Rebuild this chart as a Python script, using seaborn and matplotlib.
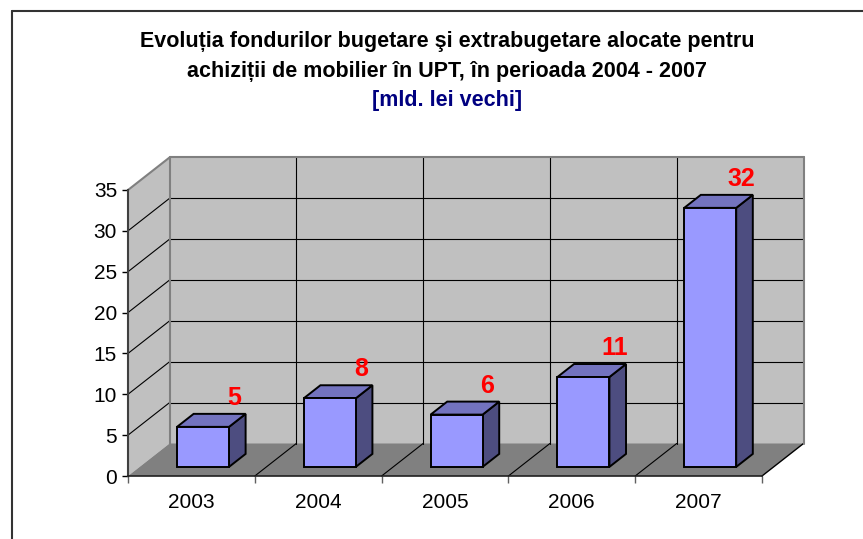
import numpy as np
import pandas as pd
import matplotlib
matplotlib.use("Agg")
import matplotlib.pyplot as plt
import seaborn as sns
from matplotlib.patches import Polygon
from matplotlib.transforms import Affine2D, IdentityTransform
from matplotlib.lines import Line2D

# ---- data ----
years = ["2003", "2004", "2005", "2006", "2007"]
values = [4.9, 8.4, 6.4, 11.0, 31.7]
y_ticks = [0, 5, 10, 15, 20, 25, 30, 35]
title_line1 = "Evoluția fondurilor bugetare şi extrabugetare alocate pentru"
title_line2 = "achiziții de mobilier în UPT, în perioada 2004 - 2007"
subtitle = "[mld. lei vechi]"

sns.set_theme(style="white")
plt.rcParams['font.family'] = ['Liberation Sans', 'DejaVu Sans']

W, H = 863, 539
fig = plt.figure(figsize=(W / 100, H / 100), dpi=100)
fig.patch.set_facecolor("white")
ax = fig.add_axes([128 / W, 63 / H, 634 / W, 286 / H])
ax.set_facecolor("none")

df = pd.DataFrame({"year": years, "value": values})
sns.barplot(data=df, x="year", y="value", color="#9999FF", saturation=1,
            width=0.41, edgecolor="black", linewidth=1.4, ax=ax, zorder=5)
bars = list(ax.patches)
ax.set_xlim(-0.5, len(years) - 0.5)
ax.set_ylim(y_ticks[0], y_ticks[-1])
ax.set_xlabel("")
ax.set_ylabel("")

D = np.array([41.5, 32.5])   # depth vector in pixels
f0, f1 = 0.28, 0.68          # bar depth span
x_lo, x_hi = -0.5, len(years) - 0.5
y_lo, y_hi = y_ticks[0], y_ticks[-1]


def P(x, y, f):
    return ax.transData.transform((x, y)) + f * D


def poly(pts, fc, ec="none", lw=0, z=0.5):
    p = Polygon(np.array(pts), closed=True, facecolor=fc, edgecolor=ec,
                linewidth=lw, transform=IdentityTransform(), clip_on=False,
                zorder=z, joinstyle="miter")
    ax.add_patch(p)


def line(a, b, color="black", lw=0.8, z=1):
    ax.add_line(Line2D([a[0], b[0]], [a[1], b[1]], color=color, lw=lw,
                       transform=IdentityTransform(), clip_on=False, zorder=z))


# back wall
poly([P(x_lo, y_lo, 1), P(x_hi, y_lo, 1), P(x_hi, y_hi, 1), P(x_lo, y_hi, 1)],
     "#C0C0C0", z=0.4)
# side wall
poly([P(x_lo, y_lo, 0), P(x_lo, y_lo, 1), P(x_lo, y_hi, 1), P(x_lo, y_hi, 0)],
     "#C0C0C0", z=0.4)
# floor
poly([P(x_lo, y_lo, 0), P(x_hi, y_lo, 0), P(x_hi, y_lo, 1), P(x_lo, y_lo, 1)],
     "#808080", z=0.45)

# gridlines
for yv in y_ticks[1:-1]:
    line(P(x_lo, yv, 0), P(x_lo, yv, 1))
    line(P(x_lo, yv, 1), P(x_hi, yv, 1))
for k in range(1, len(years)):
    xb = k - 0.5
    line(P(xb, y_lo, 1), P(xb, y_hi, 1))
    line(P(xb, y_lo, 0), P(xb, y_lo, 1))
line(P(x_hi, y_lo, 0), P(x_hi, y_lo, 1), color="black", lw=1.0)

# wall borders (gray)
gray = "#808080"
line(P(x_lo, y_hi, 0), P(x_lo, y_hi, 1), color=gray, lw=1.5, z=1.2)
line(P(x_lo, y_hi, 1), P(x_hi, y_hi, 1), color=gray, lw=1.5, z=1.2)
line(P(x_hi, y_hi, 1), P(x_hi, y_lo, 1), color=gray, lw=1.5, z=1.2)
line(P(x_lo, y_lo, 1), P(x_lo, y_hi, 1), color=gray, lw=1.5, z=1.2)

# 3D bars: move front faces, add top and side faces
front_shift = Affine2D().translate(*(f0 * D))
for b in bars:
    b.set_transform(ax.transData + front_shift)
    b.set_clip_on(False)
    x0, x1, h = b.get_x(), b.get_x() + b.get_width(), b.get_height()
    poly([P(x1, 0, f0), P(x1, h, f0), P(x1, h, f1), P(x1, 0, f1)],
         "#4D4D80", ec="black", lw=1.4, z=4.9)
    poly([P(x0, h, f0), P(x1, h, f0), P(x1, h, f1), P(x0, h, f1)],
         "#7373BF", ec="black", lw=1.4, z=4.9)

# data labels
for i, v in enumerate(values):
    ax.annotate(f"{v:.0f}", xy=(i, v), xytext=(42.5, f1 * D[1] + 4),
                textcoords="offset pixels", ha="center", va="bottom",
                color="#FF0000", fontsize=18, fontweight="bold", zorder=6,
                annotation_clip=False)

# axes styling
for s in ["top", "right"]:
    ax.spines[s].set_visible(False)
ax.spines["left"].set_color("#404040")
ax.spines["left"].set_linewidth(1.5)
ax.spines["bottom"].set_color("#202020")
ax.spines["bottom"].set_linewidth(1.2)
ax.spines["left"].set_zorder(3)
ax.spines["bottom"].set_zorder(3)

ax.set_yticks(y_ticks)
ax.set_yticklabels([str(t) for t in y_ticks])
ax.tick_params(axis="y", left=True, length=4.3, width=1, color="black",
               pad=3.6, labelsize=15, direction="out", labelcolor="black")
ax.set_xticks(range(len(years)))
ax.set_xticklabels(years)
ax.tick_params(axis="x", which="major", bottom=True, length=0, pad=12,
               labelsize=15, labelcolor="black")
ax.set_xticks(np.arange(-0.5, len(years)), minor=True)
ax.tick_params(axis="x", which="minor", bottom=True, length=5, width=1,
               color="#606060", direction="out")
ax.grid(False)

# titles
cx = 447 / W
fig.text(cx, 1 - 47 / H, title_line1, ha="center", va="baseline",
         fontsize=15.5, fontweight="bold", color="black")
fig.text(cx, 1 - 77 / H, title_line2, ha="center", va="baseline",
         fontsize=15.5, fontweight="bold", color="black")
fig.text(cx, 1 - 106 / H, subtitle, ha="center", va="baseline",
         fontsize=15.5, fontweight="bold", color="#000080")

# chart area border (left and top edges visible)
fig.add_artist(Line2D([12 / W, 12 / W], [0, 1 - 11 / H], color="#333333",
                      lw=1.5, transform=fig.transFigure))
fig.add_artist(Line2D([12 / W, 1], [1 - 11 / H, 1 - 11 / H], color="#333333",
                      lw=1.5, transform=fig.transFigure))

fig.savefig("out.png", dpi=100)
